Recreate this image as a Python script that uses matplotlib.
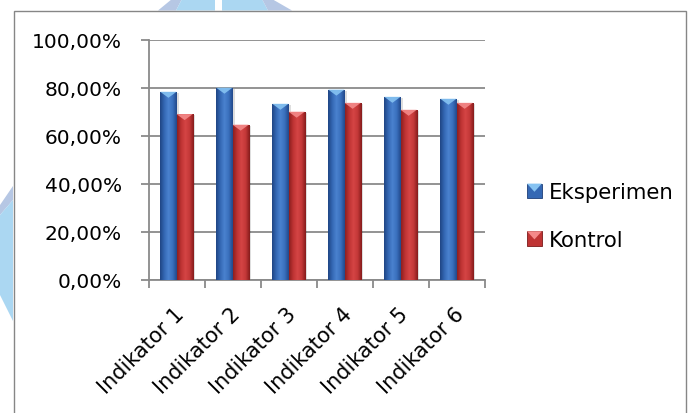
import numpy as np
import matplotlib
matplotlib.use("Agg")
import matplotlib.pyplot as plt
from matplotlib.patches import Rectangle, Polygon
from matplotlib.colors import LinearSegmentedColormap
from matplotlib.legend_handler import HandlerBase
import matplotlib.transforms as mtransforms

# ---- data ----
categories = ["Indikator 1", "Indikator 2", "Indikator 3",
              "Indikator 4", "Indikator 5", "Indikator 6"]
eksperimen = [78.3, 80.0, 73.3, 79.2, 76.2, 75.4]
kontrol = [69.0, 64.6, 70.0, 73.7, 70.8, 73.7]
series_names = ["Eksperimen", "Kontrol"]
y_ticks = [0, 20, 40, 60, 80, 100]
y_tick_labels = [f"{v:.2f}".replace(".", ",") + "%" for v in y_ticks]

# ---- styling ----
plt.rcParams["font.family"] = ["DejaVu Sans"]
W, H = 689, 414
GRID = "#8a8a8a"
styles = {
    "Eksperimen": dict(stops=["#1f4584", "#3468b4", "#4a82cf", "#3a70be", "#22498a"],
                       top="#86c3f2", edge="#1d3f78"),
    "Kontrol": dict(stops=["#8e1f1f", "#bf3434", "#d54545", "#c43838", "#861c1c"],
                    top="#f48a8a", edge="#7a1a1a"),
}

fig = plt.figure(figsize=(W / 100, H / 100), dpi=100)


def px(x, y):
    """pixel position (origin top-left) -> figure fraction"""
    return (x / W, 1 - y / H)


# faint page decoration around the chart frame
deco = [
    ([(158, 11.5), (172, 0), (182, 0), (176, 11.5)], "#b6c7e4"),
    ([(176, 11.5), (182, 0), (215, 0), (215, 11.5)], "#abd7f2"),
    ([(222, 11.5), (222, 0), (262, 0), (268, 11.5)], "#abd7f2"),
    ([(262, 0), (272, 0), (292, 11.5), (268, 11.5)], "#b6c7e4"),
    ([(0, 206), (13, 187), (13, 201), (0, 216)], "#b6c7e4"),
    ([(0, 216), (13, 201), (13, 322), (0, 296)], "#abd7f2"),
]
for pts, col in deco:
    fig.patches.append(Polygon([px(*p) for p in pts], closed=True,
                               transform=fig.transFigure, fc=col, ec="none",
                               zorder=0))

# chart frame
x0, y0 = px(13.5, 11.5)
x1, _ = px(686, 0)
fig.patches.append(Rectangle((x0, -0.02), x1 - x0, y0 + 0.02,
                             transform=fig.transFigure, fc="white",
                             ec="#868686", lw=1.0, zorder=1))

ax = fig.add_axes([148.5 / W, 1 - 280.7 / H, 336 / W, 240 / H])
ax.set_facecolor("none")
ax.set_zorder(2)

n = len(categories)
xpos = np.arange(n)
bw = 0.29
ax.set_xlim(-0.5, n - 0.5)
ax.set_ylim(0, 100)

# grid + axes
ax.set_yticks(y_ticks)
ax.set_yticklabels(y_tick_labels, fontsize=14.5)
ax.yaxis.grid(True, color=GRID, lw=1.3, zorder=0)
ax.set_axisbelow(True)
for s in ["top", "right"]:
    ax.spines[s].set_visible(False)
for s in ["left", "bottom"]:
    ax.spines[s].set_color(GRID)
    ax.spines[s].set_linewidth(1.3)
ax.tick_params(axis="y", length=6, width=1.3, color=GRID, pad=13)
ax.set_xticks(xpos)
ax.set_xticklabels(categories, rotation=45, ha="right", va="top",
                   rotation_mode="anchor", fontsize=15)
ax.set_xticks(np.arange(-0.5, n, 1.0), minor=True)
ax.tick_params(axis="x", which="major", length=0, pad=17)
ax.tick_params(axis="x", which="minor", length=5.5, width=1.3, color=GRID)
label_shift = mtransforms.ScaledTranslation(-3 / 100, 0, fig.dpi_scale_trans)
for lab in ax.get_xticklabels():
    lab.set_transform(lab.get_transform() + label_shift)

fig.canvas.draw()
units_per_px = 100 / ax.bbox.height
tri_h = 6 * units_per_px

shadow = mtransforms.ScaledTranslation(2 / 100, -1 / 100, fig.dpi_scale_trans)


def shade_bars(bars, style):
    cmap = LinearSegmentedColormap.from_list("g", style["stops"])
    grad = np.linspace(0, 1, 64)[None, :]
    for b in bars:
        bx, by = b.get_x(), b.get_y()
        bwid, bh = b.get_width(), b.get_height()
        sh = Rectangle((bx, by), bwid, bh, transform=ax.transData + shadow,
                       fc="black", alpha=0.13, ec="none", zorder=2)
        ax.add_patch(sh)
        im = ax.imshow(grad, cmap=cmap, aspect="auto",
                       extent=(bx, bx + bwid, by, by + bh), zorder=3,
                       interpolation="bilinear")
        im.set_clip_path(b)
        tri = Polygon([(bx, by + bh), (bx + bwid, by + bh),
                       (bx + bwid / 2, by + bh - tri_h)], closed=True,
                      fc=style["top"], ec="none", alpha=0.9, zorder=4)
        ax.add_patch(tri)


bars_e = ax.bar(xpos - bw / 2, eksperimen, bw, color=styles["Eksperimen"]["stops"][2],
                zorder=3, label=series_names[0])
bars_k = ax.bar(xpos + bw / 2, kontrol, bw, color=styles["Kontrol"]["stops"][2],
                zorder=3, label=series_names[1])
shade_bars(bars_e, styles["Eksperimen"])
shade_bars(bars_k, styles["Kontrol"])
ax.set_xlim(-0.5, n - 0.5)
ax.set_ylim(0, 100)


class BevelHandler(HandlerBase):
    def __init__(self, style):
        super().__init__()
        self.style = style

    def create_artists(self, legend, orig_handle, xdescent, ydescent,
                       width, height, fontsize, trans):
        s = self.style
        sq = Rectangle((-xdescent, -ydescent), width, height, fc=s["stops"][1],
                       ec=s["edge"], lw=0.6, transform=trans)
        tri = Polygon([(-xdescent, -ydescent + height),
                       (-xdescent + width, -ydescent + height),
                       (-xdescent + width / 2, -ydescent + height * 0.45)],
                      closed=True, fc=s["top"], ec="none", transform=trans)
        return [sq, tri]


fig.legend([bars_e, bars_k], series_names, loc="center left",
           bbox_to_anchor=(527 / W, 1 - 217.3 / H), frameon=False,
           fontsize=15.3, borderpad=0, borderaxespad=0, handlelength=0.7,
           handleheight=0.7, handletextpad=0.33, labelspacing=1.3,
           handler_map={bars_e: BevelHandler(styles["Eksperimen"]),
                        bars_k: BevelHandler(styles["Kontrol"])})

fig.savefig("out.png", dpi=100)
